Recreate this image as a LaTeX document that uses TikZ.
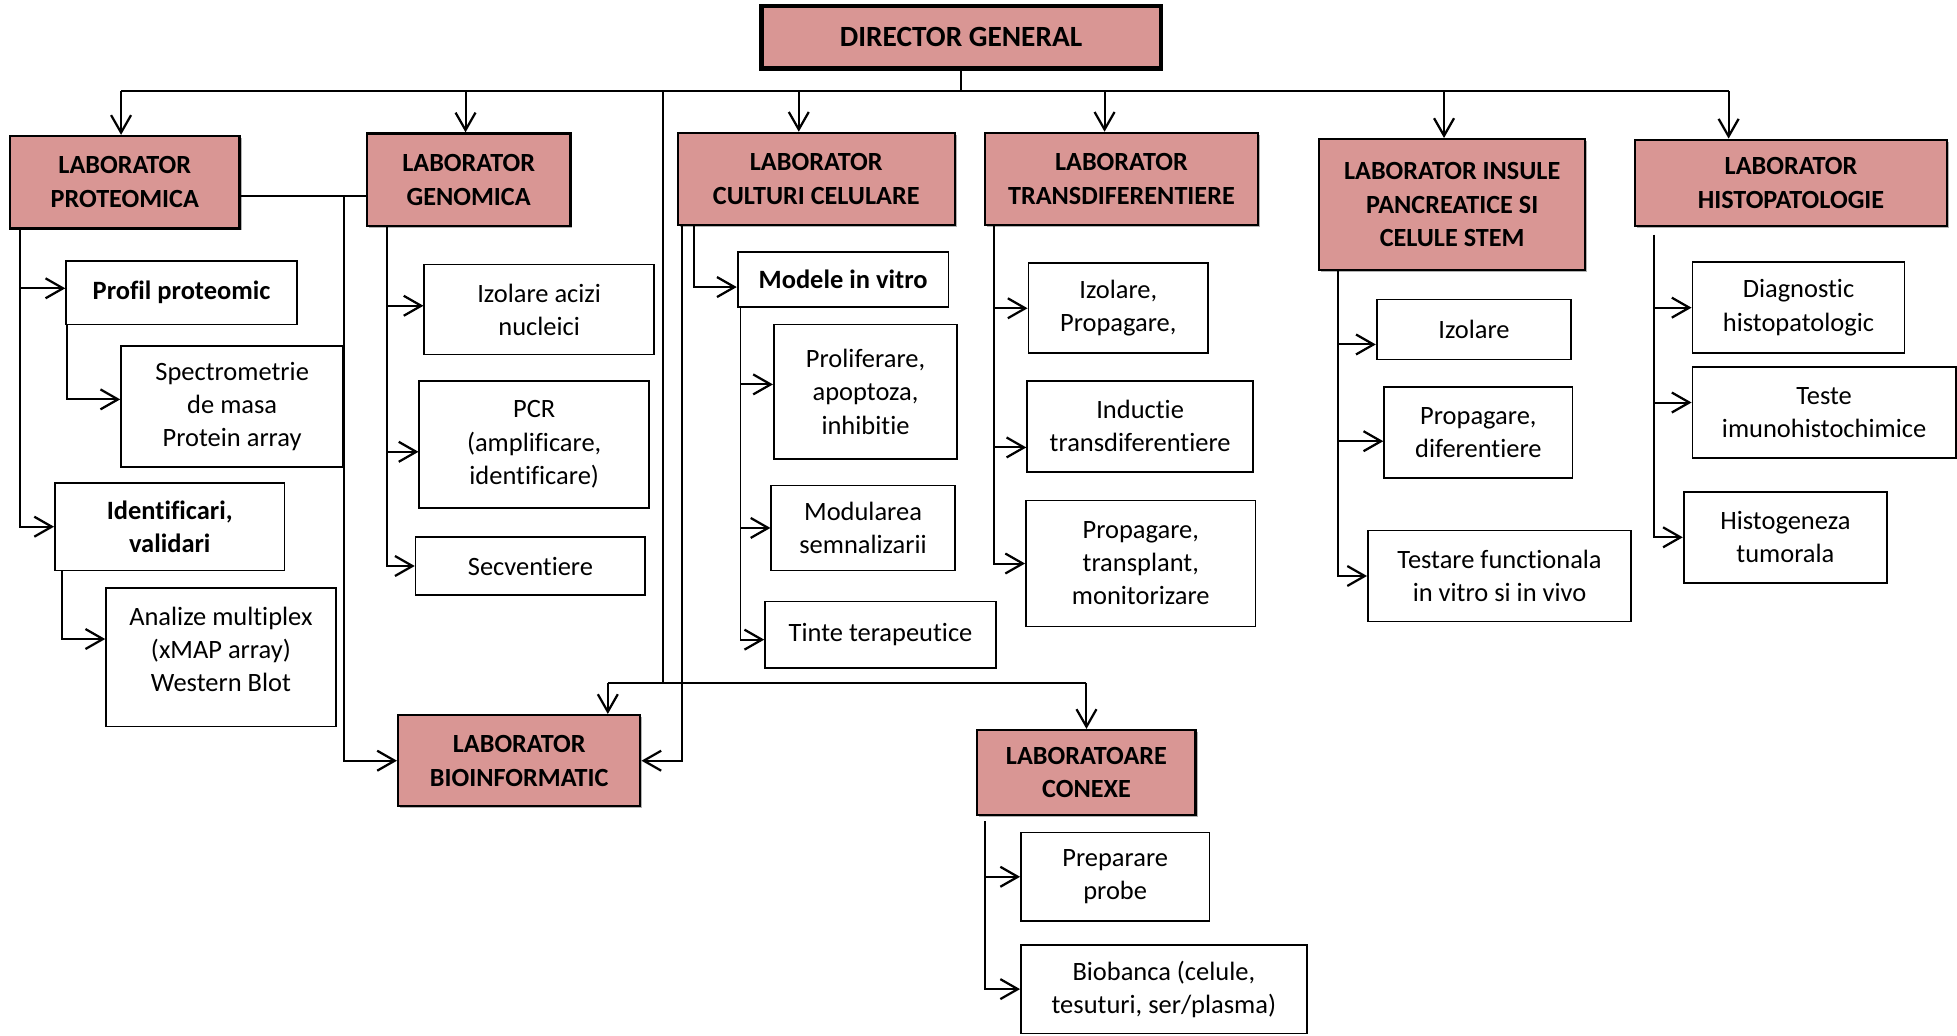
\documentclass[tikz,border=0pt]{standalone}
\usepackage{fontspec}
\setmainfont{Carlito}[Ligatures=CommonOff]
\usetikzlibrary{arrows.meta,shadows,calc}
\definecolor{pinkf}{HTML}{D99694}
\begin{document}
\begin{tikzpicture}[x=1pt,y=-1pt,
  every node/.style={inner sep=0pt, align=center},
  wbox/.style={draw, line width=1.4pt, fill=white, font=\fontsize{21.2}{26.5}\selectfont},
  wboxb/.style={wbox, font=\fontsize{21.2}{26.5}\selectfont\bfseries},
  pbox/.style={draw, line width=1.9pt, fill=pinkf, font=\fontsize{21}{27}\selectfont\bfseries,
    drop shadow={shadow xshift=1.5pt, shadow yshift=-1.5pt, fill=black!60, opacity=.5}},
  ln/.style={line width=1.6pt},
  bus/.style={line width=2pt},
  arr/.style={line width=1.6pt, -{Straight Barb[length=14pt,width=16pt,line width=1.8pt]}},
]
\useasboundingbox (0,0) rectangle (1568,829.3);
\fill[white] (0,0) rectangle (1568,829.3);

% ---- pink boxes
\node[pbox, line width=3.5pt, font=\fontsize{23.5}{28}\selectfont\bfseries, minimum width=320pt, minimum height=50pt] (dir) at (770,30) {DIRECTOR GENERAL};
\node[pbox, minimum width=184pt, minimum height=74pt] (prot) at (100,146) {LABORATOR\\PROTEOMICA};
\node[pbox, minimum width=163pt, minimum height=74pt] (gen) at (375.5,144) {LABORATOR\\GENOMICA};
\node[pbox, minimum width=222pt, minimum height=74pt] (cult) at (654,143.5) {LABORATOR\\CULTURI CELULARE};
\node[pbox, minimum width=219pt, minimum height=74pt] (trans) at (898.5,143.5) {LABORATOR\\TRANSDIFERENTIERE};
\node[pbox, minimum width=213pt, minimum height=105pt] (ins) at (1163.5,164) {LABORATOR INSULE\\PANCREATICE SI\\CELULE STEM};
\node[pbox, minimum width=250pt, minimum height=69pt] (hist) at (1435,146.5) {LABORATOR\\HISTOPATOLOGIE};
\node[pbox, minimum width=194pt, minimum height=73pt] (bio) at (416,609.5) {LABORATOR\\BIOINFORMATIC};
\node[pbox, minimum width=175pt, minimum height=68pt] (conexe) at (870.5,619) {LABORATOARE\\CONEXE};

% ---- white boxes
\node[wboxb, minimum width=185pt, minimum height=51pt] (profil) at (145.5,234.5) {Profil proteomic};
\node[wbox, minimum width=178pt, minimum height=97pt] (spectro) at (186,325.5) {Spectrometrie\\de masa\\Protein array};
\node[wboxb, minimum width=184pt, minimum height=70pt] (ident) at (136,422) {Identificari,\\validari};
\node[wbox, minimum width=184pt, minimum height=111pt, text depth=12pt] (analize) at (177,526.5) {Analize multiplex\\(xMAP array)\\Western Blot};

\node[wbox, minimum width=184pt, minimum height=72pt] (izac) at (432,248) {Izolare acizi\\nucleici};
\node[wbox, minimum width=184pt, minimum height=102pt] (pcr) at (428,356) {PCR\\(amplificare,\\identificare)};
\node[wbox, minimum width=184pt, minimum height=47pt] (secv) at (425,453.5) {Secventiere};

\node[wboxb, minimum width=169pt, minimum height=44pt] (modele) at (675.5,224) {Modele in vitro};
\node[wbox, minimum width=147pt, minimum height=108pt] (prolif) at (693.5,314) {Proliferare,\\apoptoza,\\inhibitie};
\node[wbox, minimum width=147pt, minimum height=68pt] (modul) at (691.5,423) {Modularea\\semnalizarii};
\node[wbox, minimum width=185pt, minimum height=53pt] (tinte) at (705.5,508.5) {Tinte terapeutice};

\node[wbox, minimum width=144pt, minimum height=72pt] (izprop) at (896,247) {Izolare,\\Propagare,};
\node[wbox, minimum width=181pt, minimum height=73pt] (induct) at (913.5,341.5) {Inductie\\transdiferentiere};
\node[wbox, minimum width=184pt, minimum height=101pt] (proptr) at (914,451.5) {Propagare,\\transplant,\\monitorizare};

\node[wbox, minimum width=156pt, minimum height=48pt] (izol) at (1181,264) {Izolare};
\node[wbox, minimum width=151pt, minimum height=73pt] (propdif) at (1184.5,346.5) {Propagare,\\diferentiere};
\node[wbox, minimum width=211pt, minimum height=73pt] (testare) at (1201.5,461.5) {Testare functionala\\in vitro si in vivo};

\node[wbox, minimum width=170pt, minimum height=73pt] (diag) at (1441,246.5) {Diagnostic\\histopatologic};
\node[wbox, minimum width=211pt, minimum height=73pt] (teste) at (1461.5,330.5) {Teste\\imunohistochimice};
\node[wbox, minimum width=163pt, minimum height=73pt] (histog) at (1430.5,430.5) {Histogeneza\\tumorala};

\node[wbox, minimum width=151pt, minimum height=71pt] (prep) at (893.5,702.5) {Preparare\\probe};
\node[wbox, minimum width=229pt, minimum height=71pt] (biob) at (932.5,792.5) {Biobanca (celule,\\tesuturi, ser/plasma)};

% ---- top bus
\coordinate (busL) at (97,73);
\coordinate (busR) at (1385,73);
\draw[ln] (dir.south) -- (dir.south |- busL);
\draw[bus] (busL) -- (busR);
\draw[arr] (busL) -- (busL |- prot.north);
\coordinate (gN) at ([xshift=-2.5pt]gen.north);
\draw[arr] (gN |- busL) -- (gN);
\coordinate (cN) at ([xshift=-14pt]cult.north);
\draw[arr] (cN |- busL) -- (cN);
\coordinate (tN) at ([xshift=-13.5pt]trans.north);
\draw[arr] (tN |- busL) -- (tN);
\coordinate (iN) at ([xshift=-6.5pt]ins.north);
\draw[arr] (iN |- busL) -- (iN);
\draw[arr] (busR) -- (busR |- hist.north);

% ---- bottom bus
\coordinate (vt) at (531,73);
\coordinate (bb) at (531,547);
\draw[ln] (vt) -- (bb);
\coordinate (bN) at ([xshift=71pt]bio.north);
\draw[ln] (bb -| bN) -- (bb -| conexe.north);
\draw[arr] (bb -| bN) -- (bN);
\draw[arr] (bb -| conexe.north) -- (conexe.north);

% ---- proteomica
\coordinate (tP) at ([xshift=9pt]prot.south west);
\draw[arr] (tP) |- (ident.west);
\coordinate (profA) at ([yshift=3.5pt]profil.west);
\draw[arr] (tP |- profA) -- (profA);
\draw[arr] ([xshift=1pt]profil.south west) |- ([yshift=5.5pt]spectro.west);
\draw[arr] ([xshift=6pt]ident.south west) |- ([yshift=14.5pt]analize.west);
\draw[ln] ([yshift=-11pt]prot.east) -- ([yshift=-11pt]prot.east -| gen.west);
\coordinate (tB) at (276,157);
\draw[arr] (tB) |- (bio.west);

% ---- genomica
\coordinate (tG) at ([xshift=17pt]gen.south west);
\draw[arr] (tG) |- (secv.west);
\coordinate (izA) at ([yshift=3pt]izac.west);
\draw[arr] (tG |- izA) -- (izA);
\coordinate (pcrA) at ([yshift=-6pt]pcr.west);
\draw[arr] (tG |- pcrA) -- (pcrA);

% ---- culturi
\draw[arr] ([xshift=4pt]cult.south west) |- (bio.east);
\draw[arr] ([xshift=14pt]cult.south west) |- ([yshift=-6pt]modele.west);
\coordinate (tM) at ([xshift=3pt]modele.south west);
\draw[arr] (tM) |- ([yshift=-4pt]tinte.west);
\coordinate (prA) at ([yshift=6pt]prolif.west);
\draw[arr] (tM |- prA) -- (prA);
\draw[arr] (tM |- modul.west) -- (modul.west);

% ---- transdiferentiere
\coordinate (tT) at ([xshift=8pt]trans.south west);
\draw[arr] (tT) |- (proptr.west);
\draw[arr] (tT |- izprop.west) -- (izprop.west);
\coordinate (inA) at ([yshift=-17pt]induct.west);
\draw[arr] (tT |- inA) -- (inA);

% ---- insule
\coordinate (tI) at ([xshift=16pt]ins.south west);
\draw[arr] (tI) |- (testare.west);
\coordinate (izoA) at ([yshift=-12pt]izol.west);
\draw[arr] (tI |- izoA) -- (izoA);
\coordinate (pdA) at ([yshift=-7pt]propdif.west);
\draw[arr] (tI |- pdA) -- (pdA);

% ---- histopatologie
\coordinate (tH) at ([xshift=16pt,yshift=-6pt]hist.south west);
\draw[arr] (tH) |- (histog.west);
\draw[arr] (tH |- diag.west) -- (diag.west);
\coordinate (teA) at ([yshift=8pt]teste.west);
\draw[arr] (tH |- teA) -- (teA);

% ---- conexe
\coordinate (tC) at ([xshift=7pt,yshift=-4pt]conexe.south west);
\draw[arr] (tC) |- (biob.west);
\draw[arr] (tC |- prep.west) -- (prep.west);
\end{tikzpicture}
\end{document}
